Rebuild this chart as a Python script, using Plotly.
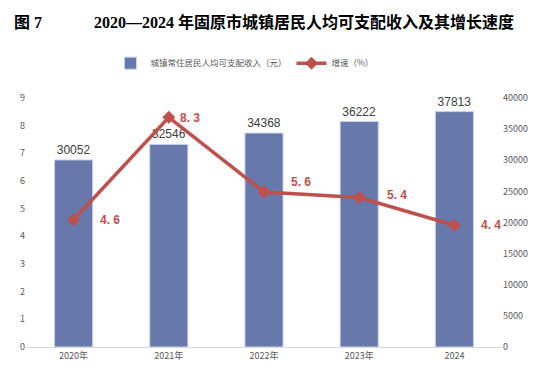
import plotly.graph_objects as go

categories = ["2020年", "2021年", "2022年", "2023年", "2024"]
income = [30052, 32546, 34368, 36222, 37813]
growth = [4.6, 8.3, 5.6, 5.4, 4.4]
growth_labels = ["4. 6", "8. 3", "5. 6", "5. 4", "4. 4"]
label_dx = [36, 21, 37, 38, 37]
label_dy = [0, -1, 10, 3, 0]

bar_color = "#6778AA"
line_color = "#C0504D"
xpos = list(range(len(categories)))

fig = go.Figure()
fig.add_trace(go.Bar(
    x=xpos, y=income, yaxis="y2", name="城镇常住居民人均可支配收入（元）",
    marker=dict(color=bar_color, line=dict(color="#C8D2EC", width=1)),
    width=0.4, text=[str(v) for v in income], textposition="outside",
    textfont=dict(size=12, color="#404040", family="Liberation Sans, Arial"),
    cliponaxis=False,
))
fig.add_trace(go.Scatter(
    x=xpos, y=growth, yaxis="y3", name="增速（%）", mode="lines+markers",
    line=dict(color=line_color, width=3.5),
    marker=dict(symbol="diamond", size=10, color=line_color),
    cliponaxis=False,
))
for xp, g, t, dx, dy in zip(xpos, growth, growth_labels, label_dx, label_dy):
    fig.add_annotation(x=xp, y=g, xref="x", yref="y3", text="<b>" + t + "</b>", showarrow=False,
                       xshift=dx, yshift=dy,
                       font=dict(size=12, color="#C0504D", family="Liberation Sans, Arial"))

fig.add_annotation(xref="paper", yref="paper", x=-0.03, y=1.305, xanchor="left", yanchor="middle",
                   text="<b>图 7</b>", showarrow=False,
                   font=dict(size=16, color="#000000", family="Liberation Serif, Noto Sans CJK SC"))
fig.add_annotation(xref="paper", yref="paper", x=0.584, y=1.305, xanchor="center", yanchor="middle",
                   text="<b>2020—2024 年固原市城镇居民人均可支配收入及其增长速度</b>", showarrow=False,
                   font=dict(size=16, color="#000000", family="Liberation Serif, Noto Sans CJK SC"))

# invisible trace to show left axis
fig.add_trace(go.Scatter(x=[0], y=[0], yaxis="y", mode="markers", marker=dict(opacity=0),
                         showlegend=False, hoverinfo="skip"))

fig.update_layout(
    width=545, height=374,
    margin=dict(l=14, r=51, t=90, b=35),
    plot_bgcolor="white", paper_bgcolor="white",
    font=dict(family="Noto Sans CJK SC, Liberation Sans", color="#595959", size=9),
    showlegend=True,
    legend=dict(orientation="h", x=0.459, xanchor="center", y=1.14, yanchor="middle",
                font=dict(size=8.5, color="#595959"), traceorder="normal", itemwidth=30),
    xaxis=dict(range=[-0.5, 4.5], tickmode="array", tickvals=xpos, ticktext=categories,
               showgrid=False, showline=True, linecolor="#D9D9D9", linewidth=1, zeroline=False,
               ticks="", tickfont=dict(size=9, color="#595959")),
    yaxis=dict(range=[0, 9], dtick=1, showgrid=False, zeroline=False, showline=False,
               ticks="", tickfont=dict(size=9, color="#595959")),
    yaxis2=dict(range=[0, 40000], dtick=5000, tickformat="d", overlaying="y", side="right",
                showgrid=False, zeroline=False, showline=False, ticks="",
                tickfont=dict(size=9, color="#595959")),
    yaxis3=dict(range=[0, 9], overlaying="y", visible=False),
)
fig.write_html("out.html")
